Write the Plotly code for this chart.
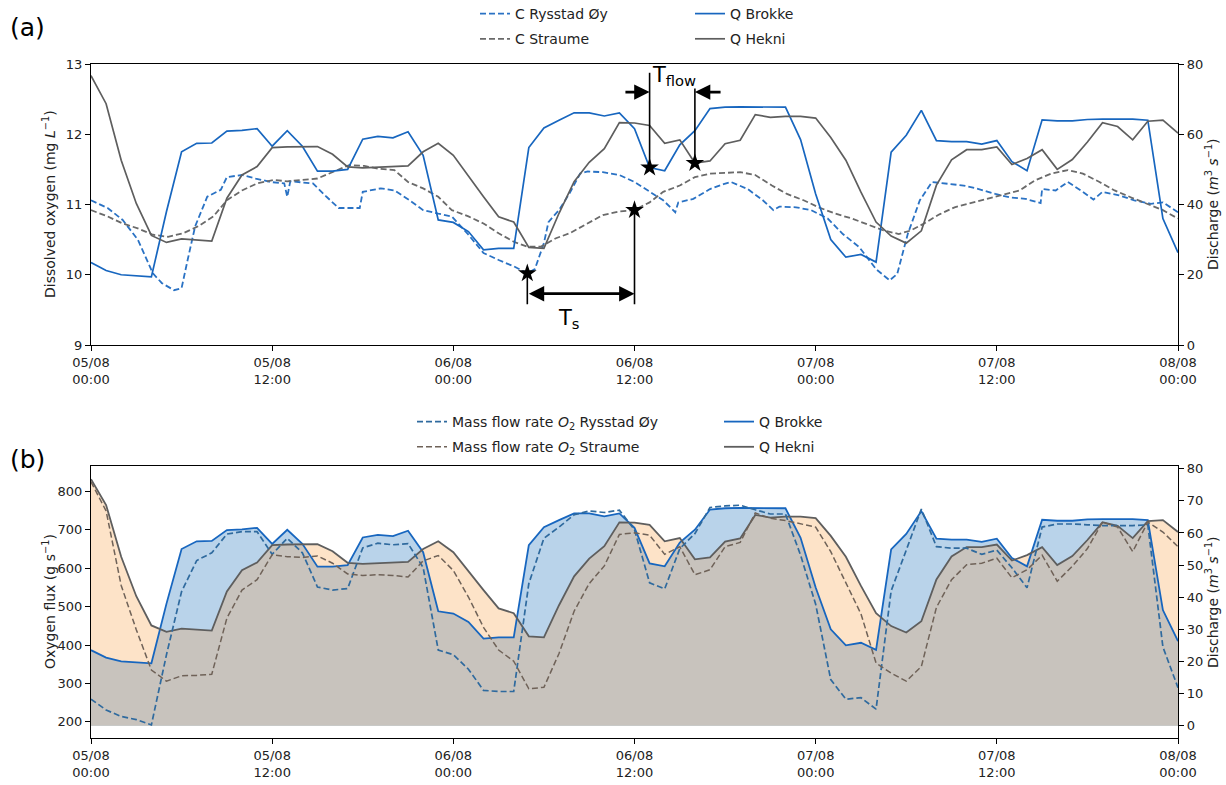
import plotly.graph_objects as go

# ---------------- data ----------------
HOURS = list(range(73))  # hours since 05/08 00:00
TICK_HOURS = [0, 12, 24, 36, 48, 60, 72]
TICK_TEXT = ["05/08<br>00:00", "05/08<br>12:00", "06/08<br>00:00", "06/08<br>12:00",
             "07/08<br>00:00", "07/08<br>12:00", "08/08<br>00:00"]

# discharge (m3/s), hourly
Q_BROKKE = [23.5, 21.2, 20.0, 19.8, 19.4, 38.0, 55.0, 57.4, 57.5, 60.9,
            61.1, 61.6, 56.6, 61.0, 56.6, 49.5, 49.5, 50.0, 58.6, 59.4,
            59.0, 60.7, 54.0, 35.6, 34.9, 32.3, 27.1, 27.5, 27.5, 56.2,
            61.8, 64.0, 66.1, 66.1, 65.2, 66.1, 61.6, 50.5, 49.6, 57.0,
            61.0, 67.3, 67.7, 67.8, 67.8, 67.8, 67.7, 58.5, 43.0, 30.0,
            25.0, 25.8, 23.6, 54.9, 59.7, 66.8, 58.2, 57.9, 57.9, 57.2,
            58.2, 52.2, 49.6, 64.1, 63.8, 63.8, 64.2, 64.3, 64.3, 64.3,
            64.0, 36.0, 26.3]
Q_HEKNI = [76.7, 68.7, 52.6, 40.3, 31.2, 29.2, 30.2, 30.0, 29.6, 41.8,
           48.4, 50.8, 56.2, 56.4, 56.4, 56.5, 54.3, 50.7, 50.4, 50.6,
           50.7, 51.0, 55.0, 57.4, 54.0, 48.0, 42.2, 36.5, 35.0, 27.8,
           27.5, 37.5, 46.5, 52.0, 55.9, 63.3, 63.2, 62.5, 57.4, 58.4,
           51.8, 52.4, 57.3, 58.3, 65.6, 64.8, 65.1, 65.1, 64.6, 59.1,
           52.6, 43.5, 35.0, 31.0, 29.0, 32.5, 45.5, 52.7, 55.6, 55.6,
           56.4, 51.4, 53.1, 55.6, 50.0, 52.8, 57.8, 63.3, 62.2, 58.4,
           63.7, 64.0, 60.3]

# oxygen mass flow rate (g/s), hourly
MF_RYSSTAD = [259, 231, 214, 206, 192, 375, 539, 620, 640, 689,
              695, 695, 636, 678, 640, 551, 543, 547, 653, 665,
              661, 664, 602, 387, 375, 337, 282, 279, 279, 560,
              678, 707, 739, 749, 745, 751, 700, 562, 546, 651,
              690, 758, 762, 764, 752, 741, 741, 634, 506, 310,
              259, 263, 233, 541, 647, 754, 656, 652, 652, 636,
              647, 601, 549, 707, 715, 715, 713, 711, 711, 711,
              713, 395, 289]
MF_STRAUME = [825, 749, 555, 440, 335, 306, 320, 321, 324, 470,
              543, 570, 635, 630, 628, 632, 613, 585, 581, 583,
              581, 577, 619, 633, 594, 525, 446, 387, 358, 286,
              290, 378, 488, 560, 606, 688, 692, 686, 636, 656,
              583, 596, 656, 667, 744, 730, 724, 716, 707, 643,
              562, 481, 353, 327, 306, 344, 498, 570, 609, 613,
              626, 575, 596, 634, 566, 605, 651, 720, 707, 643,
              720, 694, 656]

# dissolved oxygen (mg/L)
T_RYSSTAD = [0, 1.1, 2.1, 3.1, 4.1, 4.7, 5.5, 6.0, 6.4, 6.9,
             7.7, 8.6, 9.0, 10.0, 10.9, 11.9, 12.8, 13.0, 13.2, 14.7,
             15.6, 16.4, 17.8, 18.0, 19.2, 20.1, 21.1, 22.0, 23.0, 23.9,
             25.0, 26.0, 27.0, 28.0, 28.9, 29.4, 30.0, 30.3, 31.0, 31.7,
             32.4, 32.9, 33.9, 35.0, 36.0, 37.0, 37.9, 38.7, 38.9, 39.9,
             41.0, 41.9, 42.4, 43.5, 44.5, 45.2, 45.6, 46.7, 47.7, 48.8,
             49.8, 50.9, 52.0, 52.9, 53.4, 54.1, 54.9, 55.7, 56.7, 57.8,
             58.8, 59.9, 60.9, 61.9, 62.9, 63.0, 63.9, 64.7, 65.7, 66.4,
             67.0, 68.1, 69.1, 70.2, 71.0, 72.0]
C_RYSSTAD = [11.06, 10.95, 10.78, 10.50, 10.02, 9.88, 9.78, 9.81, 10.21, 10.69,
             11.11, 11.21, 11.39, 11.42, 11.37, 11.32, 11.30, 11.11, 11.33, 11.30,
             11.11, 10.95, 10.95, 11.18, 11.23, 11.20, 11.06, 10.92, 10.87, 10.83,
             10.57, 10.31, 10.21, 10.12, 10.02, 10.08, 10.45, 10.75, 10.92, 11.16,
             11.44, 11.47, 11.46, 11.42, 11.32, 11.18, 11.06, 10.89, 11.03, 11.08,
             11.22, 11.29, 11.32, 11.22, 11.06, 10.92, 10.97, 10.96, 10.92, 10.80,
             10.58, 10.39, 10.08, 9.92, 10.01, 10.58, 11.06, 11.32, 11.30, 11.27,
             11.22, 11.15, 11.10, 11.08, 11.02, 11.22, 11.20, 11.32, 11.18, 11.07,
             11.18, 11.13, 11.06, 11.01, 11.03, 10.89]
T_STRAUME = [0, 1.1, 2.1, 3.1, 4.1, 5.1, 6.1, 7.1, 8.1, 9.0,
             10.0, 11.0, 12.1, 13.0, 14.0, 15.0, 16.1, 17.1, 18.1, 19.0,
             20.1, 21.0, 22.0, 23.0, 23.9, 25.0, 26.0, 27.0, 28.0, 28.9,
             29.8, 30.8, 31.7, 32.7, 33.9, 35.0, 36.0, 37.0, 37.9, 39.0,
             40.0, 41.0, 41.9, 43.0, 44.0, 45.1, 46.1, 47.2, 48.2, 49.3,
             50.4, 51.4, 52.5, 53.5, 54.3, 55.1, 56.2, 57.2, 58.3, 59.4,
             60.4, 61.5, 62.5, 63.6, 64.7, 65.7, 66.8, 67.8, 68.9, 69.9,
             71.0, 72.0]
C_STRAUME = [10.92, 10.83, 10.73, 10.66, 10.57, 10.54, 10.59, 10.69, 10.83, 11.06,
             11.20, 11.30, 11.35, 11.33, 11.35, 11.37, 11.47, 11.56, 11.55, 11.51,
             11.49, 11.32, 11.23, 11.11, 10.92, 10.83, 10.73, 10.59, 10.47, 10.40,
             10.40, 10.52, 10.59, 10.71, 10.85, 10.90, 10.92, 11.03, 11.18, 11.27,
             11.39, 11.44, 11.45, 11.46, 11.42, 11.27, 11.15, 11.06, 10.96, 10.87,
             10.80, 10.72, 10.63, 10.58, 10.63, 10.72, 10.86, 10.96, 11.02, 11.08,
             11.13, 11.20, 11.34, 11.44, 11.49, 11.44, 11.32, 11.20, 11.10, 11.01,
             10.92, 10.80]

# points used to mark the lag times
STAR_RYSSTAD_IDX = 34
STAR_STRAUME_IDX = 36
STAR_BROKKE_HOUR = 37
STAR_HEKNI_HOUR = 40

# ---------------- styling ----------------
FONT = "DejaVu Sans"
W, H = 1226, 785
BLUE = "#1766bf"
BLUE_DASH = "#2a72c4"
GREY = "#5e5e5e"
GREY_DASH = "#6a6a6a"
MF_BLUE = "#2f6a9e"
MF_GREY = "#6f6258"
FILL_ORANGE = "#fde3c8"
FILL_BLUE = "#b9d3ea"
FILL_GREY = "#c8c3bd"

XDOM = [91 / W, 1178 / W]
YDOM_A = [1 - 345 / H, 1 - 64 / H]
YDOM_B = [1 - 738 / H, 1 - 466 / H]


def px_x(p):
    return p / W


def px_y(p):
    return 1 - p / H


def lower_envelope(t, a, b):
    """Pointwise minimum of two polylines, including crossing points."""
    ts, vs = [], []
    for i in range(len(t)):
        if i > 0:
            d0 = a[i - 1] - b[i - 1]
            d1 = a[i] - b[i]
            if d0 * d1 < 0:
                f = d0 / (d0 - d1)
                ts.append(t[i - 1] + f * (t[i] - t[i - 1]))
                vs.append(a[i - 1] + f * (a[i] - a[i - 1]))
        ts.append(t[i])
        vs.append(min(a[i], b[i]))
    return ts, vs


fig = go.Figure()

# ---------------- panel (a) ----------------
fig.add_trace(go.Scatter(x=T_RYSSTAD, y=C_RYSSTAD, mode="lines", name="C Rysstad Øy",
                         line=dict(color=BLUE_DASH, width=1.8, dash="6px,3px"),
                         xaxis="x", yaxis="y", legend="legend", legendgroup="a1"))
fig.add_trace(go.Scatter(x=T_STRAUME, y=C_STRAUME, mode="lines", name="C Straume",
                         line=dict(color=GREY_DASH, width=1.8, dash="6px,3px"),
                         xaxis="x", yaxis="y", legend="legend", legendgroup="a2"))
fig.add_trace(go.Scatter(x=HOURS, y=Q_BROKKE, mode="lines", name="Q Brokke",
                         line=dict(color=BLUE, width=1.7),
                         xaxis="x", yaxis="y2", legend="legend2", legendgroup="a3"))
fig.add_trace(go.Scatter(x=HOURS, y=Q_HEKNI, mode="lines", name="Q Hekni",
                         line=dict(color=GREY, width=1.7),
                         xaxis="x", yaxis="y2", legend="legend2", legendgroup="a4"))

# lag markers
t_s0, c_s0 = T_RYSSTAD[STAR_RYSSTAD_IDX], C_RYSSTAD[STAR_RYSSTAD_IDX]
t_s1, c_s1 = T_STRAUME[STAR_STRAUME_IDX], C_STRAUME[STAR_STRAUME_IDX]
t_f0, q_f0 = STAR_BROKKE_HOUR, Q_BROKKE[STAR_BROKKE_HOUR]
t_f1, q_f1 = STAR_HEKNI_HOUR, Q_HEKNI[STAR_HEKNI_HOUR]

star = dict(symbol="star", size=14, color="black")
fig.add_trace(go.Scatter(x=[t_s0, t_s1], y=[c_s0, c_s1], mode="markers", marker=star,
                         xaxis="x", yaxis="y", showlegend=False, hoverinfo="skip"))
fig.add_trace(go.Scatter(x=[t_f0, t_f1], y=[q_f0, q_f1], mode="markers", marker=star,
                         xaxis="x", yaxis="y2", showlegend=False, hoverinfo="skip"))

# ---------------- panel (b) ----------------
env_t, env_q = lower_envelope(HOURS, Q_BROKKE, Q_HEKNI)
fig.add_trace(go.Scatter(x=HOURS, y=Q_HEKNI, mode="lines", fill="tozeroy",
                         fillcolor=FILL_ORANGE, line=dict(width=0),
                         xaxis="x2", yaxis="y3", showlegend=False, hoverinfo="skip"))
fig.add_trace(go.Scatter(x=HOURS, y=Q_BROKKE, mode="lines", fill="tozeroy",
                         fillcolor=FILL_BLUE, line=dict(width=0),
                         xaxis="x2", yaxis="y3", showlegend=False, hoverinfo="skip"))
fig.add_trace(go.Scatter(x=env_t, y=env_q, mode="lines", fill="tozeroy",
                         fillcolor=FILL_GREY, line=dict(width=0),
                         xaxis="x2", yaxis="y3", showlegend=False, hoverinfo="skip"))
fig.add_trace(go.Scatter(x=HOURS, y=Q_BROKKE, mode="lines", name="Q Brokke",
                         line=dict(color=BLUE, width=1.8),
                         xaxis="x2", yaxis="y3", legend="legend4", legendgroup="b3"))
fig.add_trace(go.Scatter(x=HOURS, y=Q_HEKNI, mode="lines", name="Q Hekni",
                         line=dict(color=GREY, width=1.8),
                         xaxis="x2", yaxis="y3", legend="legend4", legendgroup="b4"))
fig.add_trace(go.Scatter(x=HOURS, y=MF_RYSSTAD, mode="lines",
                         name="Mass flow rate <i>O</i><sub>2</sub> Rysstad Øy",
                         line=dict(color=MF_BLUE, width=1.7, dash="6px,3px"),
                         xaxis="x2", yaxis="y4", legend="legend3", legendgroup="b1"))
fig.add_trace(go.Scatter(x=HOURS, y=MF_STRAUME, mode="lines",
                         name="Mass flow rate <i>O</i><sub>2</sub> Straume",
                         line=dict(color=MF_GREY, width=1.5, dash="6px,3px"),
                         xaxis="x2", yaxis="y4", legend="legend3", legendgroup="b2"))

# ---------------- axes ----------------
tickfont = dict(family=FONT, size=13, color="#222")
common_x = dict(range=[0, 72], tickvals=TICK_HOURS, ticktext=TICK_TEXT, domain=XDOM,
                showline=True, linecolor="black", linewidth=1.3, mirror=True,
                ticks="outside", ticklen=5, tickcolor="black", showgrid=False,
                zeroline=False, tickfont=tickfont, automargin=False)
common_y = dict(showline=True, linecolor="black", linewidth=1.3, ticks="outside",
                ticklen=5, tickcolor="black", showgrid=False, zeroline=False,
                tickfont=tickfont, automargin=False)

fig.update_layout(
    xaxis=dict(anchor="y", **common_x),
    yaxis=dict(domain=YDOM_A, range=[9, 13], tickvals=[9, 10, 11, 12, 13],
               anchor="x", side="left", **common_y),
    yaxis2=dict(range=[0, 80], tickvals=[0, 20, 40, 60, 80], overlaying="y",
                anchor="x", side="right", **common_y),
    xaxis2=dict(anchor="y3", **common_x),
    yaxis3=dict(domain=YDOM_B, range=[-3.85, 80.85], tickvals=list(range(0, 81, 10)),
                anchor="x2", side="right", **common_y),
    yaxis4=dict(range=[158, 866], tickvals=list(range(200, 801, 100)), overlaying="y3",
                anchor="x2", side="left", **common_y),
)

# ---------------- legends ----------------
legfont = dict(family=FONT, size=14, color="#222")
leg_common = dict(font=legfont, bgcolor="rgba(0,0,0,0)", borderwidth=0,
                  xanchor="left", yanchor="top", traceorder="grouped",
                  tracegroupgap=4, itemwidth=30)
fig.update_layout(
    legend=dict(x=px_x(475), y=px_y(-2), **leg_common),
    legend2=dict(x=px_x(690), y=px_y(-2), **leg_common),
    legend3=dict(x=px_x(412), y=px_y(406), **leg_common),
    legend4=dict(x=px_x(719), y=px_y(406), **leg_common),
)

# ---------------- annotation shapes ----------------
line_k = dict(color="black", width=1.6)
shapes = [
    dict(type="line", xref="x", yref="y", x0=t_s0, x1=t_s0, y0=9.58, y1=c_s0, line=line_k),
    dict(type="line", xref="x", yref="y", x0=t_s1, x1=t_s1, y0=9.58, y1=c_s1, line=line_k),
    dict(type="line", xref="x", yref="y2", x0=t_f0, x1=t_f0, y0=q_f0, y1=77.5, line=line_k),
    dict(type="line", xref="x", yref="y2", x0=t_f1, x1=t_f1, y0=q_f1, y1=73.0, line=line_k),
]
fig.update_layout(shapes=shapes)

arrow = dict(showarrow=True, arrowhead=2, arrowsize=1.1, arrowwidth=2.8,
             arrowcolor="black", text="", standoff=0, startstandoff=0)
annotations = [
    # T_s double arrow
    dict(x=t_s1, y=9.73, ax=t_s0, ay=9.73, xref="x", yref="y", axref="x", ayref="y",
         arrowside="end+start", **arrow),
    # T_flow arrows
    dict(x=t_f0, y=72.0, ax=t_f0 - 1.7, ay=72.0, xref="x", yref="y2", axref="x", ayref="y2",
         **arrow),
    dict(x=t_f1, y=72.0, ax=t_f1 + 1.8, ay=72.0, xref="x", yref="y2", axref="x", ayref="y2",
         **arrow),
    dict(x=31.6, y=9.37, xref="x", yref="y", text="T<sub>s</sub>", showarrow=False,
         font=dict(family=FONT, size=21, color="black")),
    dict(x=38.6, y=12.83, xref="x", yref="y", text="T<sub>flow</sub>", showarrow=False,
         font=dict(family=FONT, size=21, color="black")),
    # panel labels
    dict(x=px_x(8), y=px_y(28), xref="paper", yref="paper", text="(a)", showarrow=False,
         xanchor="left", yanchor="middle", font=dict(family=FONT, size=25, color="black")),
    dict(x=px_x(8), y=px_y(459), xref="paper", yref="paper", text="(b)", showarrow=False,
         xanchor="left", yanchor="middle", font=dict(family=FONT, size=25, color="black")),
]
title_font = dict(family=FONT, size=14, color="#222")
for txt, xp, yp in [
    ("Dissolved oxygen (mg <i>L</i><sup>−1</sup>)", 49, 204),
    ("Oxygen flux (g s<sup>−1</sup>)", 49, 602),
]:
    annotations.append(dict(x=px_x(xp), y=px_y(yp), xref="paper", yref="paper", text=txt,
                            textangle=-90, showarrow=False, font=title_font,
                            xanchor="center", yanchor="middle"))
for yp in (204, 602):
    annotations.append(dict(x=px_x(1212), y=px_y(yp), xref="paper", yref="paper",
                            text="Discharge (<i>m</i><sup>3</sup> <i>s</i><sup>−1</sup>)",
                            textangle=-90, showarrow=False, font=title_font,
                            xanchor="center", yanchor="middle"))
fig.update_layout(annotations=annotations)

fig.update_layout(
    width=W, height=H,
    margin=dict(l=0, r=0, t=0, b=0, autoexpand=False),
    paper_bgcolor="white", plot_bgcolor="white",
    font=dict(family=FONT, size=13, color="#222"),
)

fig.write_html("out.html")
